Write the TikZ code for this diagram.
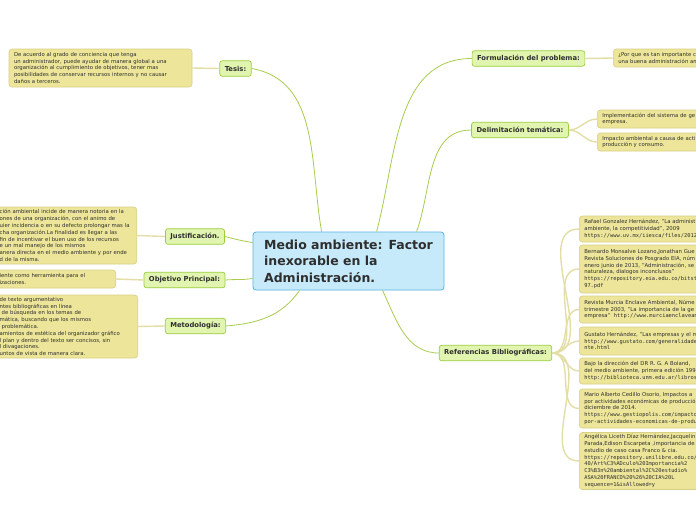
\documentclass[tikz,border=0pt]{standalone}
\usepackage{fontspec}
\setmainfont{DejaVu Sans}
\setmonofont{DejaVu Sans Mono}
\usetikzlibrary{positioning}
\definecolor{centrofondo}{HTML}{C6EAFA}
\definecolor{centroborde}{HTML}{58B5E4}
\definecolor{ramafondo}{HTML}{E2F5B0}
\definecolor{ramaborde}{HTML}{9ACD3C}
\definecolor{hojafondo}{HTML}{EDE69A}
\definecolor{hojaborde}{HTML}{D8D084}
\definecolor{lineaverde}{HTML}{A9CC4E}
\definecolor{lineapalida}{HTML}{E3DEA6}
\definecolor{textogris}{HTML}{2E2E2E}
\newcommand{\dirweb}[1]{{\ttfamily #1}}
\tikzset{
  tema/.style={draw=centroborde,fill=centrofondo,rounded corners=3pt,line width=0.8pt,
    font=\fontsize{12.5}{16.5}\selectfont\bfseries,text=textogris,align=left,
    minimum width=191pt,minimum height=58pt,inner sep=0pt},
  rama/.style={draw=ramaborde,fill=ramafondo,rounded corners=2.5pt,line width=0.7pt,
    font=\fontsize{6.8}{8}\selectfont\bfseries,text=textogris,inner xsep=5pt,
    minimum height=15.5pt,inner ysep=0pt},
  hoja/.style={draw=hojaborde,fill=hojafondo,rounded corners=3pt,line width=0.6pt,
    font=\fontsize{5.35}{6.8}\selectfont,text=textogris,align=left,inner xsep=5pt,inner ysep=2pt},
  enlace/.style={draw=lineaverde,line width=0.8pt},
  ramita/.style={draw=lineapalida,line width=1.4pt},
}
\begin{document}
\begin{tikzpicture}[x=1pt,y=-1pt]
\useasboundingbox[fill=white] (0,0) rectangle (696,520);
\node[tema] (centro) at (348.5,261) {Medio ambiente: Factor\\inexorable en la\\Administración.};

\node[rama] (tesis) at (235.5,68.5) {Tesis:};
\node[rama] (formulacion) at (528.5,58.5) {Formulación del problema:};
\node[rama] (delimitacion) at (520,130) {Delimitación temática:};
\node[rama] (justificacion) at (195,236.5) {Justificación.};
\node[rama] (objetivo) at (184.5,280) {Objetivo Principal:};
\node[rama] (metodologia) at (195.5,326) {Metodología:};
\node[rama] (referencias) at (495.5,353) {Referencias Bibliográficas:};

\node[hoja,text width=173pt,minimum height=38pt] (hTesis) at (100.5,68)
  {De acuerdo al grado de conciencia que tenga\\un administrador, puede ayudar de manera global a una\\organización al cumplimiento de objetivos, tener mas\\posibilidades de conservar recursos internos y no causar\\daños a terceros.};
\node[hoja,anchor=west,text width=120pt,minimum height=18pt] (hFormulacion) at (613,58)
  {¿Por que es tan importante c\\una buena administración am};
\node[hoja,anchor=west,text width=120pt,minimum height=18pt] (hDelimA) at (597,119)
  {Implementación del sistema de ge\\empresa.};
\node[hoja,anchor=west,text width=120pt,minimum height=18pt] (hDelimB) at (597,142)
  {Impacto ambiental a causa de acti\\producción y consumo.};
\node[hoja,anchor=east,text width=132pt,minimum height=57pt] (hJustificacion) at (137,235.5)
  {ción ambiental incide de manera notoria en la\\ones de una organización, con el animo de\\uier incidencia o en su defecto prolongar mas la\\cha organización.La finalidad es llegar a las\\fin de incentivar el buen uso de los recursos\\e un mal manejo de los mismos\\anera directa en el medio ambiente y por ende\\d de la misma.};
\node[hoja,anchor=east,text width=111pt,minimum height=18pt] (hObjetivo) at (116,279)
  {iente como herramienta para el\\izaciones.};
\node[hoja,anchor=east,text width=133pt,minimum height=63pt] (hMetodologia) at (138,326.5)
  {de texto argumentativo\\ntes bibliográficas en línea\\\hspace{2pt}de búsqueda en los temas de\\mática, buscando que los mismos\\\hspace{2pt}problemática.\\amientos de estética del organizador gráfico\\l plan y dentro del texto ser concisos, sin\\l divagaciones.\\untos de vista de manera clara.};

\node[hoja,anchor=west,text width=130pt,minimum height=26pt] (ref1) at (579,229)
  {Rafael Gonzalez Hernández, "La administ\\ambiente, la competitividad", 2009\\\dirweb{https://www.uv.mx/iiesca/files/2012/12/}};
\node[hoja,anchor=west,text width=130pt,minimum height=48pt] (ref2) at (579,269)
  {Bernardo Monsalve Lozano,Jonathan Gue\\Revista Soluciones de Posgrado EIA, núm\\enero junio de 2013, "Administración, se\\naturaleza, dialogos inconclusos"\\\dirweb{https://repository.eia.edu.co/bitstream/1}\\\dirweb{97.pdf}};
\node[hoja,anchor=west,text width=130pt,minimum height=27pt] (ref3) at (579,309.5)
  {Revista Murcia Enclave Ambiental, Núme\\trimestre 2003, "La importancia de la ge\\empresa"\ \ \dirweb{http://www.murciaenclaveam}};
\node[hoja,anchor=west,text width=130pt,minimum height=28pt] (ref4) at (579,341)
  {Gustato Hernández, "Las empresas y el m\\\dirweb{http://www.gustato.com/generalidades/}\\\dirweb{nte.html}};
\node[hoja,anchor=west,text width=130pt,minimum height=26pt] (ref5) at (579,371)
  {Bajo la dirección del DR R. G. A Boland,\\del medio ambiente, primera edición 199\\\dirweb{http://biblioteca.unm.edu.ar/libros/admi}};
\node[hoja,anchor=west,text width=130pt,minimum height=39pt] (ref6) at (579,408.5)
  {Mario Alberto Cedillo Osorio, Impactos a\\por actividades económicas de producció\\diciembre de 2014.\\\dirweb{https://www.gestiopolis.com/impactos-a}\\\dirweb{por-actividades-economicas-de-producci}};
\node[hoja,anchor=west,text width=130pt,minimum height=56pt] (ref7) at (579,461)
  {Angélica Liceth Díaz Hernández,Jacquelin\\Parada,Edison Escarpeta ,importancia de\\estudio de caso casa Franco \& cia.\\\dirweb{https://repository.unilibre.edu.co/bitstre}\\\dirweb{40/Art\%C3\%ADculo\%20Importancia\%2}\\\dirweb{C3\%B3n\%20ambiental\%2C\%20estudio\%}\\\dirweb{ASA\%20FRANCO\%20\%26\%20CIA\%20L}\\\dirweb{sequence=1\&isAllowed=y}};

\draw[ramita] (tesis.west) -- (hTesis.east);
\draw[ramita] (formulacion.east) -- (hFormulacion.west);
\draw[ramita] (delimitacion.east) to[out=0,in=180] (hDelimA.west);
\draw[ramita] (delimitacion.east) to[out=0,in=180] (hDelimB.west);
\draw[ramita] (justificacion.west) -- (hJustificacion.east);
\draw[ramita] (objetivo.west) -- (hObjetivo.east);
\draw[ramita] (metodologia.west) -- (hMetodologia.east);
\foreach \r in {ref1,ref2,ref3,ref4,ref5,ref6,ref7}
  \draw[ramita] (referencias.east) to[out=0,in=180] (\r.west);

\draw[enlace] ([xshift=69pt]centro.north west) to[out=100,in=-10] (tesis.east);
\draw[enlace] ([xshift=124pt]centro.north west) to[out=75,in=180] (formulacion.west);
\draw[enlace] ([xshift=164pt]centro.north west) to[out=70,in=180] (delimitacion.west);
\draw[enlace] ([yshift=-11pt]centro.north west) to[out=170,in=-15] (justificacion.east);
\draw[enlace] ([yshift=12pt]centro.south west) to[out=190,in=5] (objetivo.east);
\draw[enlace] ([xshift=47pt]centro.south west) to[out=235,in=5] (metodologia.east);
\draw[enlace] ([xshift=130pt]centro.south west) to[out=-65,in=180] (referencias.west);
\end{tikzpicture}
\end{document}
